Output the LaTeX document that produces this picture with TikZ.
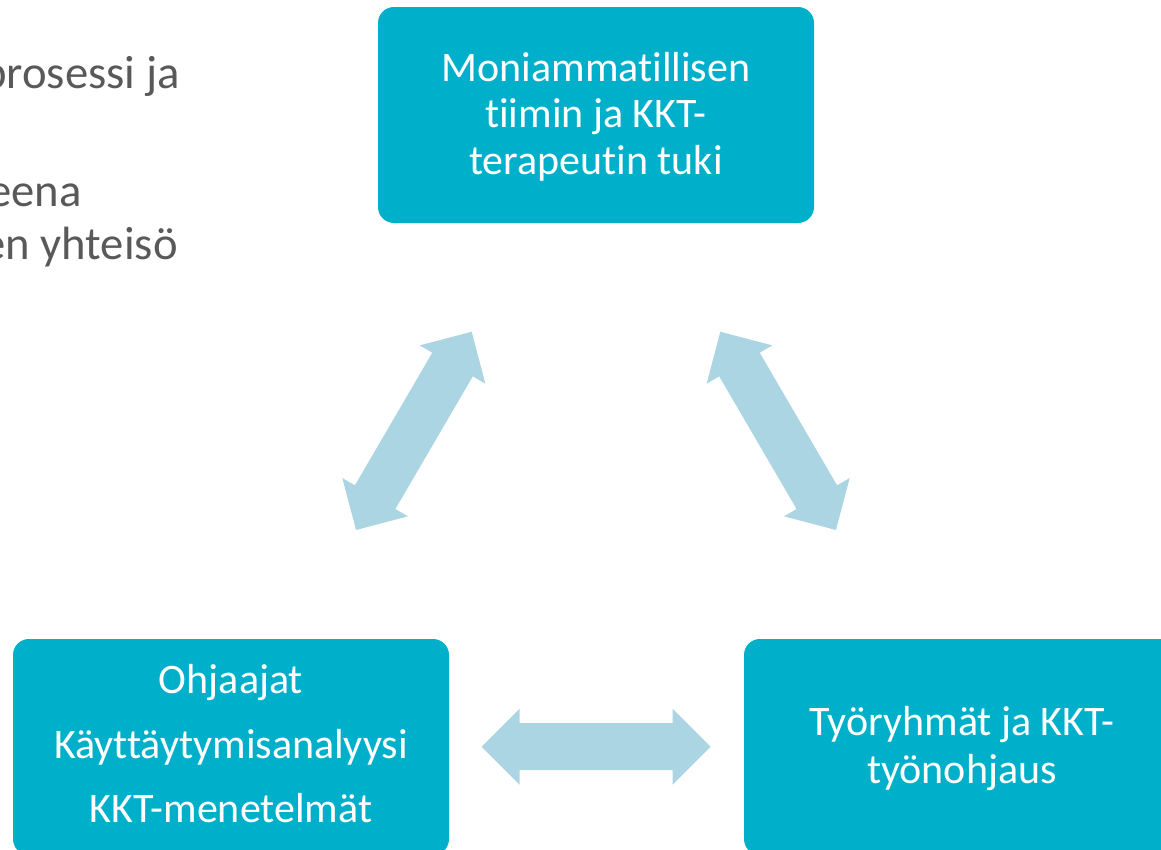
\documentclass[tikz,border=0pt]{standalone}
\usepackage{fontspec}
\setmainfont{Carlito}[RawFeature={-liga;-dlig}]
\usetikzlibrary{calc}
\definecolor{boxc}{RGB}{0,176,202}
\definecolor{arrowc}{RGB}{171,213,226}
\definecolor{greytxt}{RGB}{89,89,89}
\tikzset{
  box/.style={fill=boxc, rounded corners=12pt, minimum width=327pt, minimum height=162pt, inner sep=0pt},
  boxtext/.style={text=white, align=center, inner sep=0pt},
  sidetext/.style={text=greytxt, anchor=base east, inner sep=0pt, font=\fontsize{35}{37}\selectfont}
}
\newcommand{\dbarrow}[2]{%
  \path let \p1=(#1), \p2=(#2) in \pgfextra{%
    \pgfmathsetmacro\arrang{atan2(\y2-\y1,\x2-\x1)}%
    \pgfmathsetmacro\arrlen{veclen(\x2-\x1,\y2-\y1)}%
    \global\let\arrang\arrang \global\let\arrlen\arrlen};
  \fill[arrowc, shift={(#1)}, rotate=\arrang]
    (0pt,0pt) -- (28.5pt,28.5pt) -- (28.5pt,17.6pt)
    -- ({(\arrlen-28.5)*1pt},17.6pt) -- ({(\arrlen-28.5)*1pt},28.5pt)
    -- ({\arrlen*1pt},0pt)
    -- ({(\arrlen-28.5)*1pt},-28.5pt) -- ({(\arrlen-28.5)*1pt},-17.6pt)
    -- (28.5pt,-17.6pt) -- (28.5pt,-28.5pt) -- cycle;
}
\begin{document}
\begin{tikzpicture}[x=0.75pt,y=-0.75pt]
\useasboundingbox (0,0) rectangle (1161,850);
\begin{scope}
\clip (0,0) rectangle (1161,850);
% left partial text
\node[sidetext] (s1) at (180,88) {prosessi ja};
\node[sidetext] (s2) at (82,206) {eena};
\node[sidetext] (s3) at (178,259) {en yhteisö};
% boxes
\node[box] (top) at (596,115) {};
\node[box] (bl) at (231,747) {};
\node[box] (br) at (962,747) {};
\node[boxtext, font=\fontsize{31.5}{35}\selectfont] (ttop) at (596,116.7)
  {Moniammatillisen\\tiimin ja KKT-\\terapeutin tuki};
\node[boxtext, font=\fontsize{31.5}{48.4}\selectfont] (tbl) at (231,744)
  {Ohjaajat\\Käyttäytymisanalyysi\\KKT-menetelmät};
\node[boxtext, font=\fontsize{31.5}{36}\selectfont] (tbr) at (962,748.7)
  {Työryhmät ja KKT-\\työnohjaus};
% arrow end points
\coordinate (la1) at (356,530);
\coordinate (la2) at (471.7,331.7);
\coordinate (ra1) at (836,530);
\coordinate (ra2) at (720.3,331.7);
\coordinate (ha1) at (481.7,746.7);
\coordinate (ha2) at (710.7,746.7);
\dbarrow{la1}{la2}
\dbarrow{ra1}{ra2}
\dbarrow{ha1}{ha2}
\end{scope}
\end{tikzpicture}
\end{document}
